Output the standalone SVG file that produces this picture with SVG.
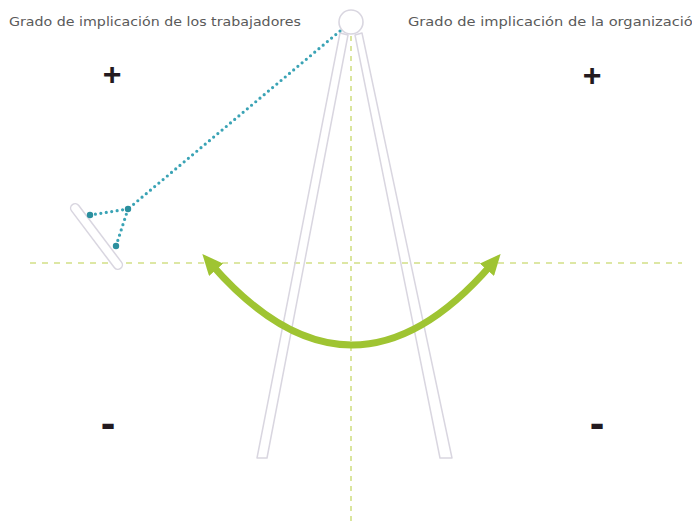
<svg xmlns="http://www.w3.org/2000/svg" width="692" height="523" viewBox="0 0 692 523">
<style>
.lbl{font-family:"DejaVu Sans","Liberation Sans",sans-serif;font-size:12.5px;fill:#5a5a5a}
.sign{font-family:"Liberation Sans",Arial,sans-serif;font-weight:bold;fill:#231a1f;text-anchor:middle}
.leg{fill:none;stroke:#d9d6e0;stroke-width:1.5;stroke-linejoin:round}
.axis{fill:none;stroke:#d2df86;stroke-width:1.6}
.dots{fill:none;stroke:#3aa3b5;stroke-width:3.2;stroke-linecap:round;stroke-dasharray:0 5.5}
.dot{fill:#2b8f9e}
</style>
<defs>
<marker id="ah" viewBox="0 0 20 18" refX="6" refY="9" markerWidth="21" markerHeight="19" markerUnits="userSpaceOnUse" orient="auto-start-reverse">
<path d="M0,0 L20,9 L0,18 z" fill="#9fc432"/>
</marker>
</defs>
<rect width="692" height="523" fill="#ffffff"/>
<g id="axes">
<line class="axis" x1="30" y1="263" x2="682" y2="263" stroke-dasharray="6 6"/>
<line class="axis" x1="351" y1="36" x2="351" y2="523" stroke-dasharray="5 5"/>
</g>
<g id="legs">
<polygon class="leg" points="340,33 348,35 267,458 257,458"/>
<polygon class="leg" points="362,33 355,35 440,458 452,458"/>
</g>
<g id="pivot">
<circle cx="351" cy="22" r="12" fill="#ffffff" stroke="#d9d6e0" stroke-width="1.6"/>
</g>
<g id="pendulum">
<rect x="-40" y="-4.5" width="80" height="9" rx="4.5" transform="translate(96.5,236.5) rotate(53)" fill="#ffffff" stroke="#d9d6e0" stroke-width="1.5"/>
</g>
<g id="connectors">
<path class="dots" d="M340,31 L128,209"/>
<path class="dots" d="M128,209 L90,215"/>
<path class="dots" d="M128,209 L116,246"/>
<circle class="dot" cx="128" cy="209" r="3.2"/>
<circle class="dot" cx="90" cy="215" r="3.2"/>
<circle class="dot" cx="116" cy="246" r="3.2"/>
<path d="M212,265 Q352,425 491,265" fill="none" stroke="#9fc432" stroke-width="7" marker-start="url(#ah)" marker-end="url(#ah)"/>
</g>
<g id="labels">
<text class="lbl" x="9" y="26" textLength="292" lengthAdjust="spacingAndGlyphs">Grado de implicación de los trabajadores</text>
<text class="lbl" x="408" y="26" textLength="294" lengthAdjust="spacingAndGlyphs">Grado de implicación de la organización</text>
</g>
<g id="signs">
<text class="sign" x="112" y="85" font-size="32">+</text>
<text class="sign" x="592" y="86" font-size="32">+</text>
<text class="sign" x="108" y="438" font-size="44">-</text>
<text class="sign" x="597" y="438" font-size="44">-</text>
</g>
</svg>
